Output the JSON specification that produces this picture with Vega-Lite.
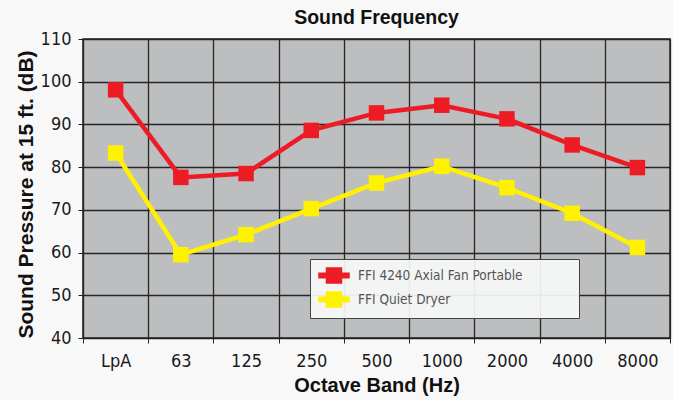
{
  "$schema": "https://vega.github.io/schema/vega-lite/v6.json",
  "width": 587,
  "height": 299,
  "autosize": "none",
  "padding": {"left": 83, "top": 39, "right": 3, "bottom": 62},
  "background": "#F8F8F8",
  "title": {
    "text": "Sound Frequency",
    "font": "Liberation Sans",
    "fontSize": 19.5,
    "fontWeight": "bold",
    "color": "#111111",
    "frame": "group",
    "anchor": "middle",
    "offset": 2
  },
  "config": {
    "view": {"fill": "#BDBEC0", "stroke": "#222222", "strokeWidth": 1.5},
    "axis": {
      "labelFont": "DejaVu Sans Condensed, Liberation Sans",
      "labelFontSize": 18,
      "labelColor": "#1a1a1a",
      "titleFont": "Liberation Sans",
      "titleFontWeight": "bold",
      "titleColor": "#111111",
      "domainColor": "#222222",
      "tickColor": "#222222",
      "gridColor": "#262626",
      "gridWidth": 1.3,
      "gridOpacity": 1,
      "tickSize": 5
    },
    "legend": {
      "orient": "none",
      "legendX": 227,
      "legendY": 220,
      "fillColor": "rgba(247,248,248,0.92)",
      "strokeColor": "#444444",
      "padding": 8,
      "labelFont": "DejaVu Sans Condensed, Liberation Sans",
      "labelFontSize": 13.5,
      "labelColor": "#555555",
      "labelLimit": 400,
      "labelOffset": 23,
      "rowPadding": 3,
      "symbolSize": 225,
      "symbolType": "M-1.0,-0.31H3.0V0.31H-1.0Z M0,-1H2V1H0Z"
    }
  },
  "data": {
    "values": [
      {"band": "LpA", "series": "FFI 4240 Axial Fan Portable", "db": 98.1},
      {"band": "63", "series": "FFI 4240 Axial Fan Portable", "db": 77.6},
      {"band": "125", "series": "FFI 4240 Axial Fan Portable", "db": 78.5},
      {"band": "250", "series": "FFI 4240 Axial Fan Portable", "db": 88.6},
      {"band": "500", "series": "FFI 4240 Axial Fan Portable", "db": 92.7},
      {"band": "1000", "series": "FFI 4240 Axial Fan Portable", "db": 94.5},
      {"band": "2000", "series": "FFI 4240 Axial Fan Portable", "db": 91.3},
      {"band": "4000", "series": "FFI 4240 Axial Fan Portable", "db": 85.2},
      {"band": "8000", "series": "FFI 4240 Axial Fan Portable", "db": 79.9},
      {"band": "LpA", "series": "FFI Quiet Dryer", "db": 83.3},
      {"band": "63", "series": "FFI Quiet Dryer", "db": 59.5},
      {"band": "125", "series": "FFI Quiet Dryer", "db": 64.2},
      {"band": "250", "series": "FFI Quiet Dryer", "db": 70.3},
      {"band": "500", "series": "FFI Quiet Dryer", "db": 76.3},
      {"band": "1000", "series": "FFI Quiet Dryer", "db": 80.2},
      {"band": "2000", "series": "FFI Quiet Dryer", "db": 75.2},
      {"band": "4000", "series": "FFI Quiet Dryer", "db": 69.2},
      {"band": "8000", "series": "FFI Quiet Dryer", "db": 61.2}
    ]
  },
  "encoding": {
    "x": {
      "field": "band",
      "type": "ordinal",
      "sort": ["LpA", "63", "125", "250", "500", "1000", "2000", "4000", "8000"],
      "scale": {"paddingInner": 0, "paddingOuter": 0},
      "axis": {
        "title": "Octave Band (Hz)",
        "titleFontSize": 20,
        "titlePadding": 5,
        "labelAngle": 0,
        "labelPadding": 9,
        "grid": true,
        "tickBand": "extent",
        "domain": true
      }
    },
    "y": {
      "field": "db",
      "type": "quantitative",
      "scale": {"domain": [40, 110], "nice": false, "zero": false},
      "axis": {
        "title": "Sound Pressure at 15 ft. (dB)",
        "titleFontSize": 21,
        "titlePadding": 4,
        "titleY": 155,
        "values": [40, 50, 60, 70, 80, 90, 100, 110],
        "labelPadding": 7,
        "grid": true
      }
    },
    "color": {
      "field": "series",
      "type": "nominal",
      "scale": {
        "domain": ["FFI 4240 Axial Fan Portable", "FFI Quiet Dryer"],
        "range": ["#ED1C24", "#FFF200"]
      },
      "legend": {
        "title": null,
        "labelExpr": "datum.label + ' ⠀⠀⠀⠀⠀'",
        "encode": {
          "symbols": {
            "update": {
              "fill": {"scale": "color", "field": "value"},
              "stroke": {"value": "transparent"},
              "opacity": {"value": 1}
            }
          }
        }
      }
    }
  },
  "layer": [
    {"mark": {"type": "line", "strokeWidth": 4.5}},
    {"mark": {"type": "point", "shape": "square", "filled": true, "size": 240, "opacity": 1}}
  ]
}
